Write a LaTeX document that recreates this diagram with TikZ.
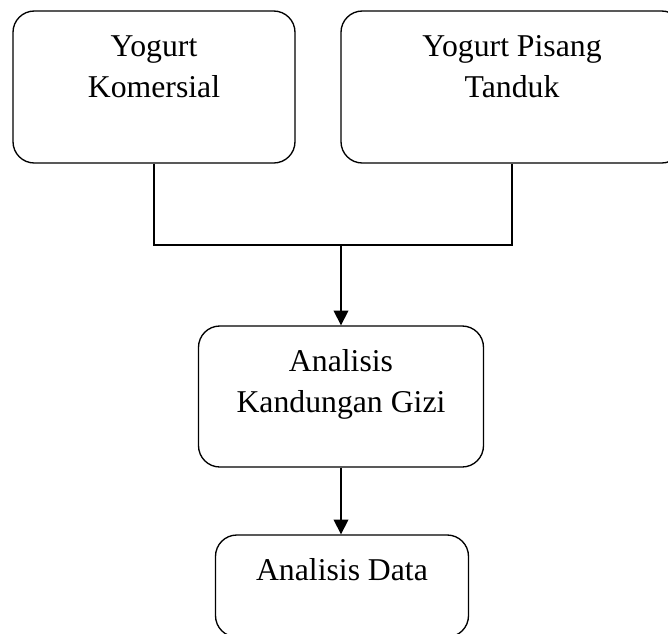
\documentclass[tikz,border=0pt]{standalone}
\usepackage{fontspec}
\setmainfont{Liberation Serif}
\usetikzlibrary{arrows.meta,positioning}
\newcommand{\boxtext}[3]{\parbox[c][#2][t]{#1}{\centering\rule{0pt}{33.75pt}#3}}

\begin{document}
\begin{tikzpicture}[x=0.75pt,y=-0.75pt,
  box/.style={rectangle,draw,line width=1pt,rounded corners=16pt,inner sep=0pt,font=\fontsize{23.8pt}{31pt}\selectfont},
  arr/.style={-{Triangle[length=11pt,width=11pt]},line width=1pt}
]
\clip (0,0) rectangle (668,633);
\node[box] (komersial) at (154,87) {\boxtext{211.5pt}{114pt}{Yogurt\\Komersial}};
\node[box] (pisang) at (512,87) {\boxtext{256.5pt}{114pt}{Yogurt Pisang\\Tanduk}};
\node[box] (gizi) at (341,396.5) {\boxtext{213.75pt}{105.75pt}{Analisis\\Kandungan Gizi}};
\node[box] (data) at (342,586) {\boxtext{189.75pt}{76.5pt}{Analisis Data}};

\coordinate (join) at (341,245);
\draw[line width=1pt] (komersial.south) |- (join) -| (pisang.south);
\draw[arr] (join) -- (gizi.north);
\draw[arr] (gizi.south) -- (gizi.south |- data.north);
\end{tikzpicture}
\end{document}
